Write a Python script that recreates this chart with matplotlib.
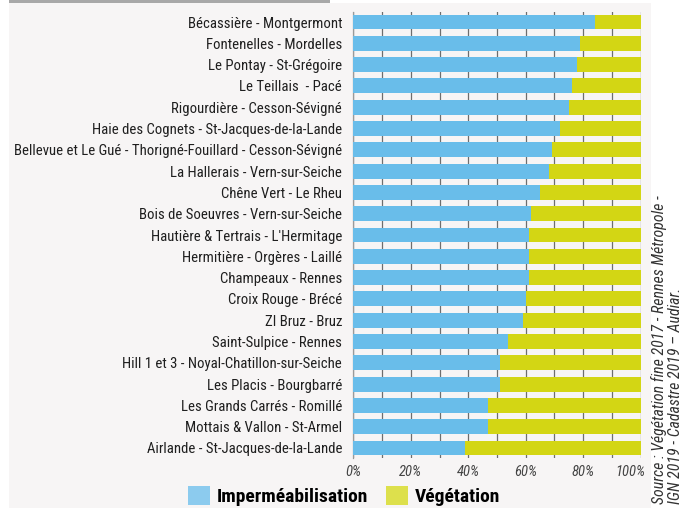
import numpy as np
import matplotlib
matplotlib.use("Agg")
import matplotlib.pyplot as plt
from matplotlib import font_manager
from matplotlib.patches import Patch, Rectangle
from matplotlib.transforms import ScaledTranslation

# condensed family if there is one, otherwise plain Liberation Sans
names = {f.name for f in font_manager.fontManager.ttflist}
FONT = "Roboto Condensed" if "Roboto Condensed" in names else "Liberation Sans"
FAMILY = [FONT, "DejaVu Sans"]
plt.rcParams['font.family'] = FAMILY

sites = [
    "Bécassière - Montgermont",
    "Fontenelles - Mordelles",
    "Le Pontay - St-Grégoire",
    "Le Teillais  - Pacé",
    "Rigourdière - Cesson-Sévigné",
    "Haie des Cognets - St-Jacques-de-la-Lande",
    "Bellevue et Le Gué - Thorigné-Fouillard - Cesson-Sévigné",
    "La Hallerais - Vern-sur-Seiche",
    "Chêne Vert - Le Rheu",
    "Bois de Soeuvres - Vern-sur-Seiche",
    "Hautière & Tertrais - L'Hermitage",
    "Hermitière - Orgères - Laillé",
    "Champeaux - Rennes",
    "Croix Rouge - Brécé",
    "ZI Bruz - Bruz",
    "Saint-Sulpice - Rennes",
    "Hill 1 et 3 - Noyal-Chatillon-sur-Seiche",
    "Les Placis - Bourgbarré",
    "Les Grands Carrés - Romillé",
    "Mottais & Vallon - St-Armel",
    "Airlande - St-Jacques-de-la-Lande",
]
impermeab = [84, 79, 78, 76, 75, 72, 69, 68, 65, 62, 61, 61, 61, 60, 59, 54, 51, 51, 47, 47, 39]
vegetation = [100 - v for v in impermeab]

BLUE = "#69bdea"
GREEN = "#d3d614"
BG = "#f7f5f5"

fig = plt.figure(figsize=(6.99, 5.08), dpi=100, facecolor="white")
# light panel + grey band on top, behind everything
fig.patches.append(Rectangle((9/699, 0), (651-9)/699, 1 - 3/508, transform=fig.transFigure,
                             facecolor=BG, edgecolor="none", zorder=-5))
fig.patches.append(Rectangle((9/699, 1 - 3/508), (330-9)/699, 3/508, transform=fig.transFigure,
                             facecolor="#a8a8a8", edgecolor="none", zorder=-5))

ax = fig.add_axes([353.3/699, 1 - 458/508, (640.7-353.3)/699, (458-12)/508])
ax.set_facecolor("none")

y = np.arange(len(sites))
ax.barh(y, impermeab, height=0.7, color=BLUE, zorder=3)
ax.barh(y, vegetation, left=impermeab, height=0.7, color=GREEN, zorder=3)

ax.set_xlim(0, 100)
ax.set_ylim(len(sites) - 0.53, -0.47)
ax.set_yticks(y)
ax.set_yticklabels(sites, fontsize=10.6, color="#1f1f1f")
ax.set_xticks(np.arange(0, 101, 20))
ax.set_xticklabels([f"{v}%" for v in range(0, 101, 20)], fontsize=10.5,
                   style="italic", color="#444444")
ax.set_xticks(np.arange(0, 101, 10), minor=True)
ax.tick_params(axis="both", which="both", length=0)
ax.tick_params(axis="y", pad=8)
ax.tick_params(axis="x", pad=5)
ax.grid(True, axis="x", which="both", color="#6e6e6e", linewidth=0.9, zorder=1)
for s in ["top", "right", "bottom"]:
    ax.spines[s].set_visible(False)
ax.spines["left"].set_color("#9a9a9a")
ax.spines["left"].set_linewidth(0.9)

# the "100%" label sits inside the right edge, as in the original
last = ax.get_xticklabels()[-1]
last.set_horizontalalignment("right")
last.set_transform(last.get_transform() + ScaledTranslation(5/100, 0, fig.dpi_scale_trans))

handles = [Patch(facecolor="#8ccbee", label="Imperméabilisation"),
           Patch(facecolor="#dde04c", label="Végétation")]
fig.legend(handles=handles, loc="lower center", bbox_to_anchor=(0.492, -0.03), ncol=2,
           frameon=False, handlelength=1.15, handleheight=1.15, handletextpad=0.35,
           columnspacing=0.9, prop={"family": FAMILY, "weight": "bold", "size": 14})

fig.text(659/699, 4/508, "Source : Végétation fine 2017 - Rennes Métropole -", rotation=90,
         ha="center", va="bottom", fontsize=11.4, style="italic", color="#333333")
fig.text(676/699, 4/508, "IGN 2019 - Cadastre 2019 – Audiar.", rotation=90,
         ha="center", va="bottom", fontsize=11.4, style="italic", color="#333333")

fig.savefig("out.png", dpi=100, facecolor=fig.get_facecolor())
